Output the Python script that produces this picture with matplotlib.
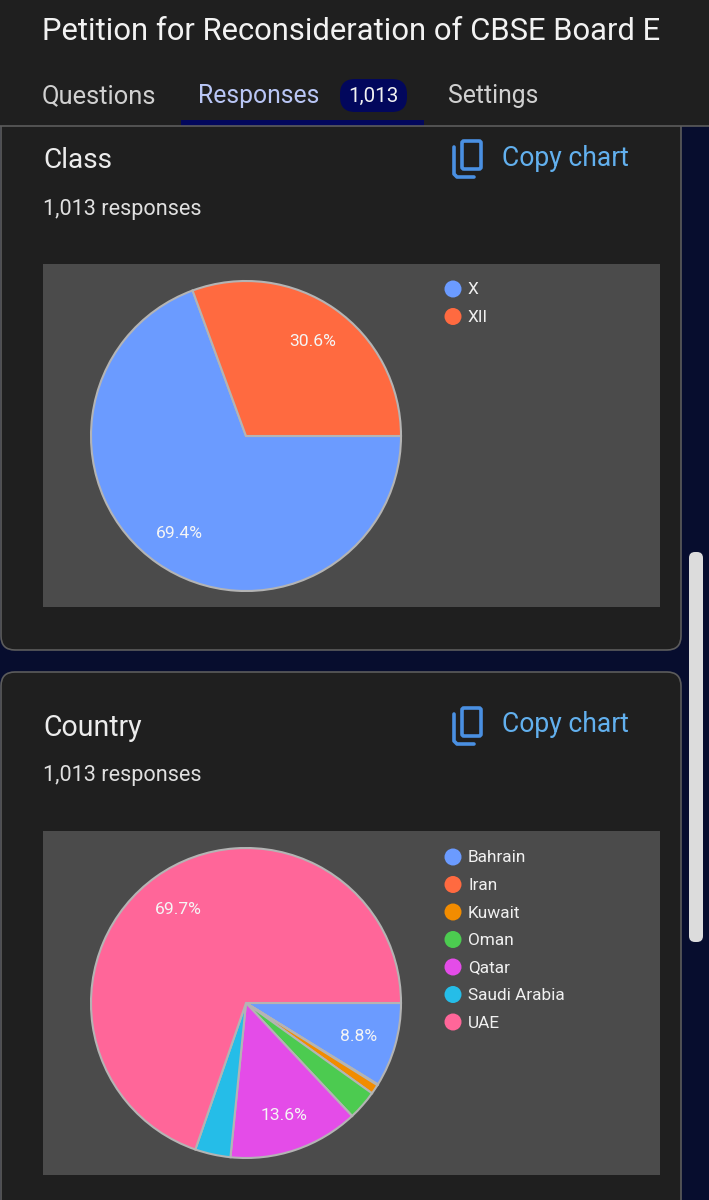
import matplotlib
matplotlib.use('Agg')
import matplotlib.pyplot as plt
from matplotlib.patches import Rectangle, FancyBboxPatch, Circle

plt.rcParams['font.family'] = ['Roboto', 'DejaVu Sans']

W, H = 709, 1200

class_labels = ['X', 'XII']
class_values = [69.4, 30.6]
class_colors = ['#6b9bff', '#ff6a40']

country_labels = ['Bahrain', 'Iran', 'Kuwait', 'Oman', 'Qatar', 'Saudi Arabia', 'UAE']
country_values = [8.8, 0.1, 1.0, 3.1, 13.6, 3.7, 69.7]
country_colors = ['#6b9bff', '#ff6a40', '#f28c00', '#4ccb50', '#e44ce8', '#25bde8', '#ff6699']

CARD = '#1f1f1f'
NAVY = '#070d2e'
PLOT = '#4b4b4b'
BORDER = '#5c5c5c'
LINK = '#62b0ee'

fig = plt.figure(figsize=(W / 100, H / 100), dpi=100, facecolor=NAVY)
bg = fig.add_axes([0, 0, 1, 1])
bg.set_xlim(0, W)
bg.set_ylim(H, 0)
bg.axis('off')


def px(size):
    # font size given in pixels
    return size * 0.72


def card(y0, y1):
    bg.add_patch(FancyBboxPatch((1, y0), 680, y1 - y0,
                                boxstyle='round,pad=0,rounding_size=14',
                                fc=CARD, ec=BORDER, lw=1.2))


def copy_icon(y):
    bg.add_patch(FancyBboxPatch((462, y - 15), 19, 28, boxstyle='round,pad=0,rounding_size=2',
                                fc='none', ec='#4a90e2', lw=2.6))
    bg.plot([454, 454, 457, 474], [y - 9, y + 18, y + 21, y + 21], color='#4a90e2', lw=2.6,
            solid_capstyle='round')


def legend(labels, colors, y0):
    for i, (name, c) in enumerate(zip(labels, colors)):
        y = y0 + i * 27.5
        bg.add_patch(Circle((453, y), 8.5, fc=c, ec='none'))
        bg.text(468, y + 1, name, color='#f0f0f0', fontsize=px(17.2), va='center', ha='left')


def pie(values, colors, cx, cy, r):
    ax = fig.add_axes([(cx - r) / W, 1 - (cy + r) / H, 2 * r / W, 2 * r / H])
    ax.patch.set_alpha(0)
    _, _, pct = ax.pie(values, colors=colors, startangle=0, counterclock=False, radius=1,
                       autopct=lambda p: f'{p:.1f}%' if p > 5 else '', pctdistance=0.755,
                       wedgeprops=dict(edgecolor='#b4b4b4', linewidth=1.5, clip_on=False),
                       textprops=dict(color='#f5f5f5', fontsize=px(17.5)))
    for t in pct:
        x, y = t.get_position()
        t.set_position((x, y - 0.012))
    ax.set_xlim(-1, 1)
    ax.set_ylim(-1, 1)


# cards
card(100, 650)
card(672, 1240)

# header
bg.add_patch(Rectangle((0, 0), W, 126, fc=CARD, ec='none'))
bg.plot([0, W], [126, 126], color=BORDER, lw=1.2)
bg.text(42, 31, 'Petition for Reconsideration of CBSE Board E', color='#f2f2f2',
        fontsize=px(31), va='center', ha='left')
bg.text(42, 96, 'Questions', color='#d0d0d0', fontsize=px(25.5), va='center', ha='left')
bg.text(198, 96, 'Responses', color='#b9c6f5', fontsize=px(24.7), va='center', ha='left')
bg.add_patch(FancyBboxPatch((340, 79), 67, 33, boxstyle='round,pad=0,rounding_size=15',
                            fc='#02075c', ec='none'))
bg.text(373.5, 96, '1,013', color='#f2f2f2', fontsize=px(20.5), va='center', ha='center')
bg.text(448, 96, 'Settings', color='#d0d0d0', fontsize=px(24.8), va='center', ha='left')
bg.add_patch(Rectangle((181, 120), 243, 6, fc='#02075c', ec='none'))

# scrollbar
bg.add_patch(FancyBboxPatch((689, 552), 14, 390, boxstyle='round,pad=0,rounding_size=6',
                            fc='#dcdcdc', ec='none'))

# class block
bg.text(43, 161, 'Class', color='#ececec', fontsize=px(28), va='center', ha='left')
bg.text(43, 209, '1,013 responses', color='#e0e0e0', fontsize=px(21.6), va='center', ha='left')
copy_icon(156)
bg.text(502, 158, 'Copy chart', color=LINK, fontsize=px(26.5), va='center', ha='left')
bg.add_patch(Rectangle((43, 264), 617, 343, fc=PLOT, ec='none'))
legend(class_labels, class_colors, 289)

# country block
bg.text(43, 728, 'Country', color='#ececec', fontsize=px(28.5), va='center', ha='left')
bg.text(43, 776, '1,013 responses', color='#e0e0e0', fontsize=px(21.6), va='center', ha='left')
copy_icon(723)
bg.text(502, 725, 'Copy chart', color=LINK, fontsize=px(26.5), va='center', ha='left')
bg.add_patch(Rectangle((43, 831), 617, 344, fc=PLOT, ec='none'))
legend(country_labels, country_colors, 857)

pie(class_values, class_colors, 246, 436, 155)
pie(country_values, country_colors, 246, 1003, 155)

fig.savefig('out.png', dpi=100, facecolor=fig.get_facecolor())
